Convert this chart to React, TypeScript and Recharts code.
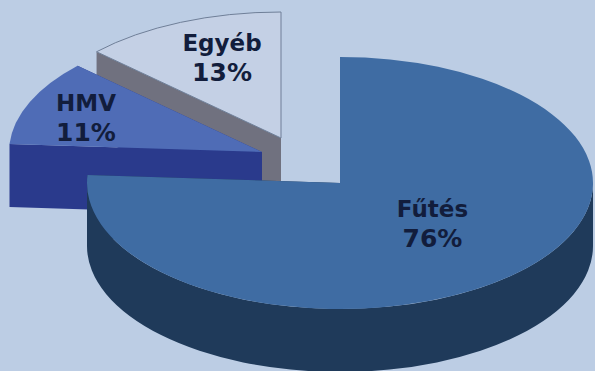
import { Pie, PieChart } from "recharts";

const categories = ["Egyéb", "HMV", "Fűtés"];
const shares = [13, 11, 76];

const data = categories.map((name, i) => ({ name, value: shares[i] }));

const WIDTH = 595;
const HEIGHT = 371;
const CENTER_X = 340;
const CENTER_Y = 183;
const RADIUS = 253;
const TILT = 0.498; // vertical squash of the pie disc
const DEPTH = 63;

// per slice styling, same order as categories
const topColors = ["#c4d0e5", "#4f6cb6", "#3f6ca3"];
const wallColors = ["#70717f", "#2a3a8c", "#1f3a5a"];
const edgeColors = ["#6f7f98", "none", "none"];
const explode = [
  { x: -59, y: -45 },
  { x: -78, y: -31 },
  { x: 0, y: 0 },
];
// how far out along the slice's mid angle the label sits
const labelReach = [
  { x: 0.587, y: 0.7 },
  { x: 0.758, y: 0.7 },
  { x: 0.534, y: 0.435 },
];

const rad = (deg: number) => (deg * Math.PI) / 180;

function rim(cx: number, cy: number, r: number, deg: number) {
  return {
    x: cx + r * Math.cos(rad(deg)),
    y: cy - r * TILT * Math.sin(rad(deg)),
  };
}

// Extruded slice: side walls first, then the elliptical top face
function Slice3D(props: any) {
  const { cx, cy, outerRadius: r, startAngle, endAngle, index } = props;
  const off = explode[index];
  const ox = cx + off.x;
  const oy = cy + off.y;
  const ry = r * TILT;

  const a = rim(ox, oy, r, startAngle);
  const b = rim(ox, oy, r, endAngle);
  const large = Math.abs(endAngle - startAngle) > 180 ? 1 : 0;
  const top = `M${ox},${oy} L${a.x},${a.y} A${r},${ry} 0 ${large} 0 ${b.x},${b.y} Z`;

  const quad = (deg: number) => {
    const p = rim(ox, oy, r, deg);
    return `M${ox},${oy} L${p.x},${p.y} L${p.x},${p.y + DEPTH} L${ox},${oy + DEPTH} Z`;
  };

  // the curved wall only shows on the front half of the disc
  const from = Math.max(startAngle, 180);
  const to = Math.min(endAngle, 360);
  let curved = "";
  if (to > from) {
    const p = rim(ox, oy, r, from);
    const q = rim(ox, oy, r, to);
    curved = `M${p.x},${p.y} A${r},${ry} 0 0 0 ${q.x},${q.y} L${q.x},${q.y + DEPTH} A${r},${ry} 0 0 1 ${p.x},${p.y + DEPTH} Z`;
  }

  return (
    <g>
      <path d={quad(startAngle)} fill={wallColors[index]} />
      <path d={quad(endAngle)} fill={wallColors[index]} />
      {curved && <path d={curved} fill={wallColors[index]} />}
      <path d={top} fill={topColors[index]} stroke={edgeColors[index]} strokeWidth={1} />
    </g>
  );
}

function SliceLabel(props: any) {
  const { cx, cy, outerRadius: r, midAngle, index, name, value } = props;
  const off = explode[index];
  const reach = labelReach[index];
  const x = cx + off.x + r * reach.x * Math.cos(rad(midAngle));
  const y = cy + off.y - r * TILT * reach.y * Math.sin(rad(midAngle));
  return (
    <text
      x={x}
      y={y}
      textAnchor="middle"
      fontFamily="DejaVu Sans"
      fontWeight="bold"
      fill="#121d3c"
    >
      <tspan x={x} dy={-6} fontSize={23}>
        {name}
      </tspan>
      <tspan x={x} dy={30} fontSize={25}>
        {value}%
      </tspan>
    </text>
  );
}

export default function App() {
  return (
    <div
      style={{
        position: "absolute",
        left: 0,
        top: 0,
        width: WIDTH,
        height: HEIGHT,
        background: "#bccde4",
      }}
    >
      <PieChart width={WIDTH} height={HEIGHT} margin={{ top: 0, right: 0, bottom: 0, left: 0 }}>
        <Pie
          data={data}
          dataKey="value"
          nameKey="name"
          cx={CENTER_X}
          cy={CENTER_Y}
          outerRadius={RADIUS}
          startAngle={90}
          endAngle={450}
          stroke="none"
          shape={Slice3D}
          label={SliceLabel}
          labelLine={false}
          isAnimationActive={false}
        />
      </PieChart>
    </div>
  );
}
